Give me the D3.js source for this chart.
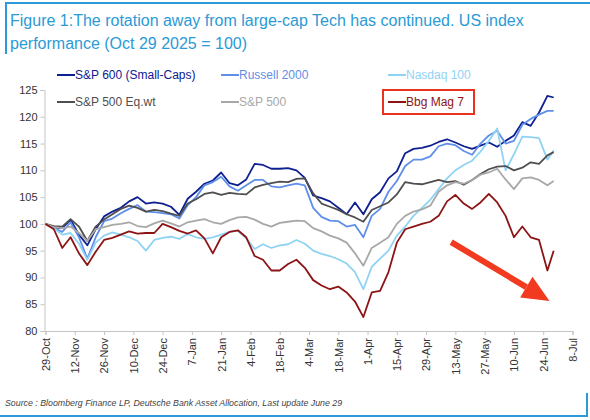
<!DOCTYPE html>
<html lang="en">
<head>
<meta charset="utf-8">
<title>US index performance</title>
<style>
  body { margin: 0; background: #fff; }
  svg { display: block; font-family: "Liberation Sans", Arial, sans-serif; }
</style>
</head>
<body>
<script src="https://cdnjs.cloudflare.com/ajax/libs/d3/7.9.0/d3.min.js"></script>
<script>

// sample dates (every ~4 days)
const dates = [
  "2025-10-29","2025-11-02","2025-11-06","2025-11-10","2025-11-14","2025-11-18","2025-11-22","2025-11-26",
  "2025-11-30","2025-12-04","2025-12-08","2025-12-12","2025-12-16","2025-12-20","2025-12-24","2025-12-28",
  "2026-01-01","2026-01-05","2026-01-09","2026-01-13","2026-01-17","2026-01-21","2026-01-25","2026-01-29",
  "2026-02-02","2026-02-06","2026-02-10","2026-02-14","2026-02-18","2026-02-22","2026-02-26","2026-03-02",
  "2026-03-06","2026-03-10","2026-03-14","2026-03-18","2026-03-22","2026-03-26","2026-03-30","2026-04-03",
  "2026-04-07","2026-04-11","2026-04-15","2026-04-19","2026-04-23","2026-04-27","2026-05-01","2026-05-05",
  "2026-05-09","2026-05-13","2026-05-17","2026-05-21","2026-05-25","2026-05-29","2026-06-02","2026-06-06",
  "2026-06-10","2026-06-14","2026-06-18","2026-06-22","2026-06-26","2026-06-29"
];

const sp600 = [
  100, 99.3, 99.2, 100.8, 98, 96, 99, 101.4, 102.3, 103, 104.2, 105, 103.8, 104, 103.8, 103.2, 101.7,
  104.7, 106, 107.5, 108.1, 109.6, 107.6, 107.2, 108.3, 111.2, 111, 110.3, 110.3, 110.4, 110, 108.6, 105.3,
  104.8, 104.2, 103, 101.8, 104, 101.8, 104.6, 105.9, 108.5, 109.8, 113.2, 114, 114.2, 114.6,
  115.3, 115.8, 115.2, 114.5, 114, 114.6, 115.2, 114.4, 115.5, 116.5, 119, 118.3, 120.8, 123.9, 123.6
];
const russell = [
  100, 99.2, 98.5, 100.3, 97.5, 93.5, 97.5, 100.5, 101, 102, 102.8, 103.5, 102.3, 102.2, 102, 101.8, 101,
  103.5, 105, 107.2, 107.8, 108.8, 107, 106.2, 107.2, 108.2, 108.2, 107, 106.8, 107.2, 107.5, 107.2, 103,
  101.3, 100.6, 100.5, 99.5, 99.8, 97.5, 101.5, 102.8, 106, 108, 110.8, 112, 112, 112.6,
  114.5, 115, 114.7, 113.6, 112.9, 115, 116.5, 117.4, 115, 115.5, 118.5, 119.6, 120.4, 121.1, 121.1
];
const nasdaq = [
  100, 99.2, 98, 98.3, 96.3, 93.3, 96.5, 97.8, 98.4, 98, 97.5, 96.8, 95, 97, 97.4, 97.6, 97.2,
  98.1, 97.5, 97.2, 97.5, 98, 98.5, 98.7, 97.3, 95.3, 96.2, 95.5, 96, 96.2, 97, 96.3, 95,
  94.4, 94, 93.4, 92.6, 91, 87.8, 92, 93.5, 95, 97.8, 99.5, 101.5, 103, 104.5,
  106.5, 108.5, 110, 111, 111.8, 113.5, 115.5, 117.8, 110, 113, 116.3, 116.2, 116, 112, 113.7
];
const sp500ew = [
  100, 99.6, 99.5, 100.9, 99.5, 96.8, 99.5, 100.8, 101.8, 102.8, 103.4, 103, 102.3, 102.6, 102.4, 101.9, 101.5,
  103.8, 104.6, 105.6, 105.9, 105.4, 105.8, 105.6, 105.5, 106.8, 107.3, 107.6, 107.9, 107.8, 108.4, 108.5, 105.7,
  103.8, 103.2, 102.6, 101.8, 101.2, 100.4, 102.6, 103.3, 104, 105.5, 107.8, 107.5, 107.4, 107.8,
  108.2, 107.8, 108, 107.3, 108.2, 109.3, 110.2, 110.7, 110.8, 110, 110.5, 111.5, 111.2, 112.8, 113.4
];
const sp500 = [
  100, 99.4, 99.2, 99.5, 98.3, 96.8, 99, 99.4, 99.8, 100, 100.3, 99.6, 99.4, 100.1, 100.6, 100.1, 99.5,
  100.3, 100.6, 100.9, 100.3, 100, 100.7, 101.2, 101.3, 100.8, 100, 99.5, 100.2, 100.4, 100.6, 100.5, 99.2,
  98.6, 97.8, 97.3, 96.5, 94.5, 92.2, 95.5, 96.5, 97.5, 100, 101.5, 102.3, 102.7, 103.4,
  106, 107.2, 107.8, 107.5, 108.2, 109.2, 109.6, 110.3, 108.3, 106.5, 108.5, 108.7, 108.2, 107.2, 108
];
const mag7 = [
  100, 99, 95.5, 97.5, 94.5, 92.3, 94.8, 97, 97.4, 98, 98.6, 98.2, 98.3, 98.3, 100, 99.4, 98.7,
  98.2, 98.8, 97.3, 94.5, 97.5, 98.5, 98.8, 97.5, 94, 93.3, 91.3, 91.3, 92.5, 93.3, 91.8, 89.5,
  88.5, 87.8, 88.3, 87.2, 85.5, 82.6, 87.2, 87.5, 91, 96.5, 99, 99.5, 100, 100.4,
  101.5, 104.2, 105.4, 103.8, 102.8, 104, 105.6, 104, 101.5, 97.5, 99.5, 97.5, 97, 91.3, 95
];

const seriesNames = ["S&P 600 (Small-Caps)", "Russell 2000", "Nasdaq 100", "S&P 500 Eq.wt", "S&P 500", "Bbg Mag 7"];
const seriesValues = [sp600, russell, nasdaq, sp500ew, sp500, mag7];

const xTicks = ["2025-10-29","2025-11-12","2025-11-26","2025-12-10","2025-12-24","2026-01-07","2026-01-21",
  "2026-02-04","2026-02-18","2026-03-04","2026-03-18","2026-04-01","2026-04-15","2026-04-29","2026-05-13",
  "2026-05-27","2026-06-10","2026-06-24","2026-07-08"];
const yTicks = [80, 85, 90, 95, 100, 105, 110, 115, 120, 125];

const width = 590, height = 420;
const colors = ["#0e2090", "#5f8fe8", "#8fd3f4", "#4f4f4f", "#a8a8a8", "#8c1414"];
const blue = "#2b9ad6";
const parse = d3.timeParse("%Y-%m-%d");

const svg = d3.select("body").append("svg")
    .attr("width", width)
    .attr("height", height);

svg.append("rect").attr("width", width).attr("height", height).attr("fill", "#fff");

// frame bits
svg.append("line").attr("x1", 5).attr("x2", 590).attr("y1", 3).attr("y2", 3)
    .attr("stroke", blue).attr("stroke-width", 2);
svg.append("line").attr("x1", 6).attr("x2", 6).attr("y1", 2).attr("y2", 54)
    .attr("stroke", blue).attr("stroke-width", 2);
svg.append("line").attr("x1", 0).attr("x2", 588).attr("y1", 416).attr("y2", 416)
    .attr("stroke", blue).attr("stroke-width", 2);
svg.append("line").attr("x1", 587).attr("x2", 587).attr("y1", 393).attr("y2", 417)
    .attr("stroke", blue).attr("stroke-width", 2);

// title
const title = svg.append("text").attr("fill", blue).style("font-size", "16px");
title.append("tspan").attr("x", 10).attr("y", 26)
    .text("Figure 1:The rotation away from large-cap Tech has continued. US index");
title.append("tspan").attr("x", 10).attr("y", 49)
    .text("performance (Oct 29 2025 = 100)");

const x = d3.scaleTime()
    .domain([parse("2025-10-29"), parse("2026-07-08")])
    .range([45.5, 572.5]);
const y = d3.scaleLinear()
    .domain([80, 125])
    .range([331, 90]);

// axes
const yAxis = svg.append("g")
    .attr("transform", "translate(44.5,0)")
    .call(d3.axisLeft(y).tickValues(yTicks).tickSize(4).tickPadding(3));
const xAxis = svg.append("g")
    .attr("transform", `translate(0,${y(80)})`)
    .call(d3.axisBottom(x).tickValues(xTicks.map(parse)).tickSize(4)
        .tickFormat(d3.timeFormat("%-d-%b")));
xAxis.selectAll("text")
    .attr("transform", "rotate(-90)")
    .attr("text-anchor", "end")
    .attr("x", -7)
    .attr("y", 0)
    .attr("dy", "0.35em");

[yAxis, xAxis].forEach(a => {
  a.select(".domain").attr("stroke", "#c4c4c4");
  a.selectAll(".tick line").attr("stroke", "#c4c4c4");
  a.selectAll("text").attr("fill", "#333").style("font-size", "11px")
      .style("font-family", "\"Liberation Sans\", Arial, sans-serif");
});

// lines
const line = d3.line()
    .x((d, i) => x(parse(dates[i])))
    .y(d => y(d));

svg.append("g").selectAll("path")
    .data(seriesValues)
    .join("path")
    .attr("d", line)
    .attr("fill", "none")
    .attr("stroke", (d, i) => colors[i])
    .attr("stroke-width", 1.8)
    .attr("stroke-linejoin", "round");

// legend
const legCols = [57, 221, 388];
const legRows = [75, 102];
const legend = svg.append("g");
seriesNames.forEach((name, i) => {
  const lx = legCols[i % 3], ly = legRows[Math.floor(i / 3)];
  if (name === "Bbg Mag 7") {
    legend.append("rect")
        .attr("x", lx - 5).attr("y", ly - 12).attr("width", 91).attr("height", 24)
        .attr("fill", "#fff").attr("stroke", "#e8331f").attr("stroke-width", 2);
  }
  legend.append("line")
      .attr("x1", lx).attr("x2", lx + 18).attr("y1", ly).attr("y2", ly)
      .attr("stroke", colors[i]).attr("stroke-width", 2);
  legend.append("text")
      .attr("x", lx + 18).attr("y", ly).attr("dy", "0.35em")
      .attr("fill", colors[i]).style("font-size", "12px")
      .text(name);
});

// arrow annotation
const ax1 = x(parse("2026-05-11")), ay1 = y(96.6);
const ax2 = x(parse("2026-06-27")), ay2 = y(85.6);
const ang = Math.atan2(ay2 - ay1, ax2 - ax1);
const headLen = 27, headW = 12;
const bx = ax2 - headLen * Math.cos(ang), by = ay2 - headLen * Math.sin(ang);
svg.append("line")
    .attr("x1", ax1).attr("y1", ay1).attr("x2", bx).attr("y2", by)
    .attr("stroke", "#f13a1f").attr("stroke-width", 6);
svg.append("path")
    .attr("d", `M${ax2},${ay2}L${bx - headW * Math.sin(ang)},${by + headW * Math.cos(ang)}` +
               `L${bx + headW * Math.sin(ang)},${by - headW * Math.cos(ang)}Z`)
    .attr("fill", "#f13a1f");

// source
svg.append("text")
    .attr("x", 5).attr("y", 406)
    .attr("fill", "#444")
    .style("font-size", "8.8px")
    .style("font-style", "italic")
    .text("Source : Bloomberg Finance LP, Deutsche Bank Asset Allocation, Last update June 29");

</script>
</body>
</html>
